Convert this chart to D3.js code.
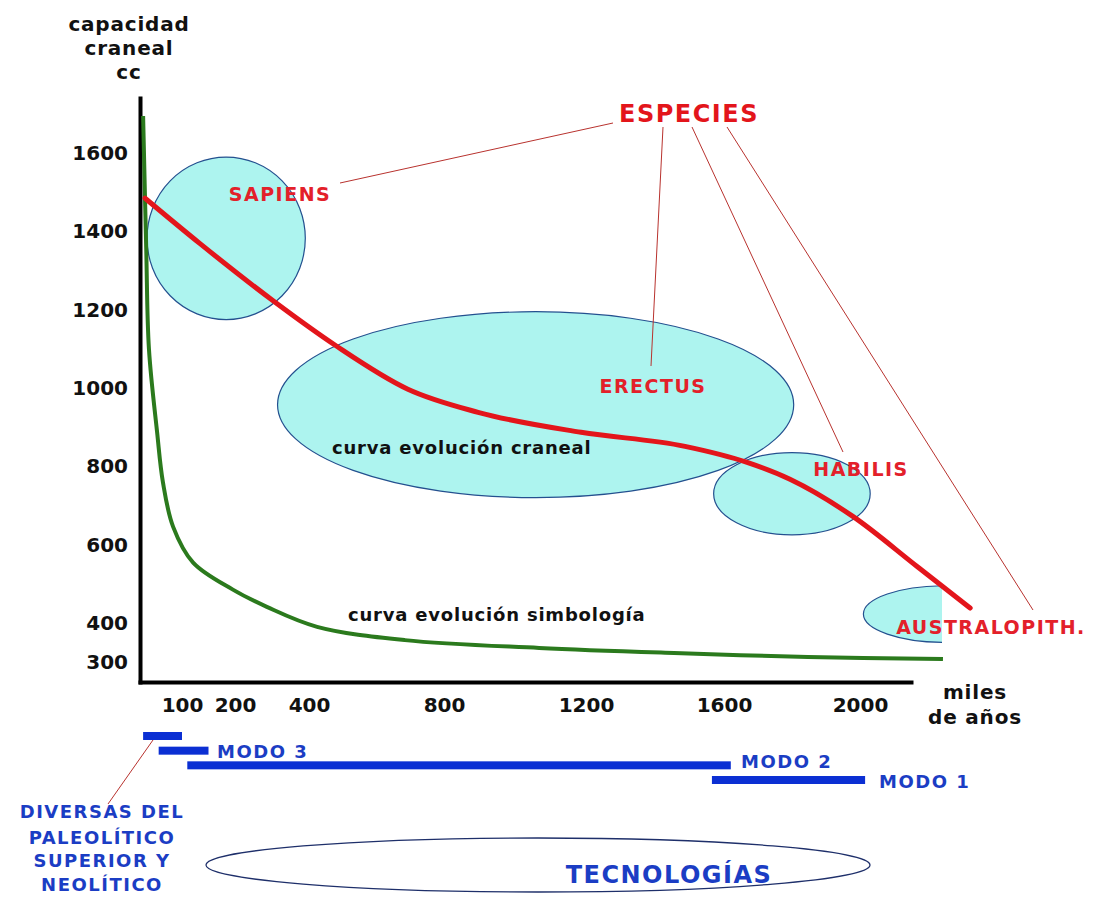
<!DOCTYPE html>
<html>
<head>
<meta charset="utf-8">
<script src="https://cdn.jsdelivr.net/npm/d3@7"></script>
<style>
  body { margin: 0; background: #fff; }
  text { font-family: "DejaVu Sans", Verdana, sans-serif; }
</style>
</head>
<body>
<svg id="chart" width="1094" height="900"></svg>
<script>
// ---- data -------------------------------------------------------------
// x: miles de años (thousands of years ago), y: capacidad craneal (cc)
const xTicks = [100, 200, 400, 800, 1200, 1600, 2000];
const yTicks = [300, 400, 600, 800, 1000, 1200, 1400, 1600];

// curva evolución craneal
const cranialAge = [5, 134, 303, 480, 693, 896, 1186, 1487, 1668, 1794, 1979, 2168, 2324];
const cranialCC  = [1485, 1369, 1223, 1108, 997, 938, 887, 851, 810, 767, 672, 544, 438];

// curva evolución simbología
const symbolAge   = [0, 8, 15, 36, 51, 77, 121, 196, 286, 424, 684, 1068, 1455, 1847, 2244];
const symbolLevel = [1695, 1356, 1100, 887, 759, 646, 554, 485, 441, 390, 356, 336, 323, 313, 308];

// especies: time span and cranial capacity span
const species    = ["SAPIENS", "ERECTUS", "HABILIS", "AUSTRALOPITH."];
const speciesAge = [[10, 390], [315, 1805], [1570, 2030], [2010, 2490]];
const speciesCC  = [[1175, 1590], [720, 1195], [625, 835], [350, 495]];

// tecnologías
const techNames = ["DIVERSAS", "MODO 3", "MODO 2", "MODO 1"];
const techAge   = [[0, 100], [40, 150], [110, 1620], [1565, 2015]];

// ---- scales -----------------------------------------------------------
const svg = d3.select("#chart");

const x = d3.scaleLinear()
  .domain([-8, 100, 200, 400, 800, 1200, 1600, 2000, 2150])
  .range([140, 182, 235, 309, 444, 586, 724, 860, 911]);

const y = d3.scaleLinear()
  .domain([249, 1741])
  .range([682, 98]);

const techRow = d3.scalePoint().domain(techNames).range([736, 780]);

// ---- species ellipses ---------------------------------------------------
svg.append("defs").append("clipPath").attr("id", "plotClip")
  .append("rect").attr("x", 0).attr("y", 0)
  .attr("width", x(2241)).attr("height", y.range()[0]);

const ellipses = species.map((name, i) => {
  const [a0, a1] = speciesAge[i];
  const [c0, c1] = speciesCC[i];
  return {
    name,
    cx: (x(a0) + x(a1)) / 2, rx: Math.abs(x(a1) - x(a0)) / 2,
    cy: (y(c0) + y(c1)) / 2, ry: Math.abs(y(c1) - y(c0)) / 2
  };
});

svg.append("g").attr("clip-path", "url(#plotClip)")
  .selectAll("ellipse").data(ellipses).join("ellipse")
  .attr("cx", d => d.cx).attr("cy", d => d.cy)
  .attr("rx", d => d.rx).attr("ry", d => d.ry)
  .attr("fill", "#adf4ef")
  .attr("stroke", "#24508f")
  .attr("stroke-width", 1.2);

// ---- axes -------------------------------------------------------------
const fmt = d3.format("d");

const yAxis = svg.append("g")
  .attr("transform", `translate(${x(-8)},0)`)
  .call(d3.axisLeft(y).tickValues(yTicks).tickFormat(fmt)
    .tickSize(0).tickSizeOuter(0).tickPadding(12));

const xAxis = svg.append("g")
  .attr("transform", `translate(0,${y(249)})`)
  .call(d3.axisBottom(x).tickValues(xTicks).tickFormat(fmt)
    .tickSize(0).tickSizeOuter(0).tickPadding(16));

[yAxis, xAxis].forEach(g => {
  g.select(".domain").attr("stroke", "#000").attr("stroke-width", 4).attr("stroke-linecap", "square");
  g.selectAll(".tick text")
    .attr("fill", "#111")
    .style("font-size", "20px")
    .style("font-weight", "bold")
    .style("font-family", '"DejaVu Sans", sans-serif');
});

// axis titles
const yTitle = svg.append("text")
  .attr("text-anchor", "middle")
  .style("font-size", "20px").style("font-weight", "bold")
  .attr("letter-spacing", 0.8).attr("fill", "#111");
[["capacidad", 31], ["craneal", 55], ["cc", 79]].forEach(([t, yy]) =>
  yTitle.append("tspan").attr("x", 129).attr("y", yy).text(t));

const xTitle = svg.append("text")
  .attr("text-anchor", "middle")
  .style("font-size", "20px").style("font-weight", "bold")
  .attr("letter-spacing", 0.8).attr("fill", "#111");
[["miles", 699], ["de años", 724]].forEach(([t, yy]) =>
  xTitle.append("tspan").attr("x", 975).attr("y", yy).text(t));

// ---- curves -----------------------------------------------------------
const symbolLine = d3.line()
  .x(d => x(d[0])).y(d => y(d[1]))
  .curve(d3.curveCatmullRom.alpha(0.5));

svg.append("path")
  .datum(d3.zip(symbolAge, symbolLevel))
  .attr("d", symbolLine)
  .attr("fill", "none")
  .attr("stroke", "#2b7a1d")
  .attr("stroke-width", 4);

const cranialLine = d3.line()
  .x(d => x(d[0])).y(d => y(d[1]))
  .curve(d3.curveMonotoneX);

svg.append("path")
  .datum(d3.zip(cranialAge, cranialCC))
  .attr("d", cranialLine)
  .attr("fill", "none")
  .attr("stroke", "#e3151b")
  .attr("stroke-width", 5)
  .attr("stroke-linecap", "round");

// curve captions
const captionStyle = sel => sel
  .style("font-size", "18px").style("font-weight", "bold")
  .attr("letter-spacing", 0.8).attr("fill", "#111");
svg.append("text").attr("x", 332).attr("y", 454).call(captionStyle)
  .text("curva evolución craneal");
svg.append("text").attr("x", 348).attr("y", 621).call(captionStyle)
  .text("curva evolución simbología");

// ---- species callouts ---------------------------------------------------
const leaderColor = "#b8322e";
const leaders = [
  [613, 123, 340, 183],
  [663, 127, 651, 366],
  [692, 127, 843, 452],
  [727, 127, 1033, 610]
];
svg.append("g").selectAll("line").data(leaders).join("line")
  .attr("x1", d => d[0]).attr("y1", d => d[1])
  .attr("x2", d => d[2]).attr("y2", d => d[3])
  .attr("stroke", leaderColor).attr("stroke-width", 1);

svg.append("text").attr("x", 689).attr("y", 122).attr("text-anchor", "middle")
  .style("font-size", "24px").style("font-weight", "bold")
  .attr("letter-spacing", 1.5).attr("fill", "#e3151b")
  .text("ESPECIES");

const speciesLabelPos = [[280, 201], [653, 393], [861, 476], [991, 634]];
svg.append("g").selectAll("text").data(species).join("text")
  .attr("x", (d, i) => speciesLabelPos[i][0])
  .attr("y", (d, i) => speciesLabelPos[i][1])
  .attr("text-anchor", "middle")
  .style("font-size", "19px").style("font-weight", "bold")
  .attr("letter-spacing", 1.5)
  .attr("fill", "#e3202a")
  .text(d => d);

// ---- technology bars ----------------------------------------------------
svg.append("g").selectAll("rect").data(techNames).join("rect")
  .attr("x", (d, i) => x(techAge[i][0]))
  .attr("width", (d, i) => x(techAge[i][1]) - x(techAge[i][0]))
  .attr("y", d => techRow(d) - 4)
  .attr("height", 8)
  .attr("fill", "#0b2fd3");

const techLabelStyle = sel => sel
  .style("font-size", "18px").style("font-weight", "bold")
  .attr("fill", "#1b3dc4").attr("letter-spacing", 1.5);

svg.append("text").attr("x", 217).attr("y", 758).call(techLabelStyle).text("MODO 3");
svg.append("text").attr("x", 741).attr("y", 768).call(techLabelStyle).text("MODO 2");
svg.append("text").attr("x", 879).attr("y", 788).call(techLabelStyle).text("MODO 1");

// leader to the upper palaeolithic / neolithic bar
svg.append("line")
  .attr("x1", 153).attr("y1", 740).attr("x2", 108).attr("y2", 804)
  .attr("stroke", leaderColor).attr("stroke-width", 1);

const div = svg.append("text").attr("text-anchor", "middle").call(techLabelStyle);
[["DIVERSAS DEL", 818], ["PALEOLÍTICO", 844], ["SUPERIOR Y", 867], ["NEOLÍTICO", 891]]
  .forEach(([t, yy]) => div.append("tspan").attr("x", 102).attr("y", yy).text(t));

// technologies ellipse
svg.append("ellipse")
  .attr("cx", 538).attr("cy", 865).attr("rx", 332).attr("ry", 27)
  .attr("fill", "#fff").attr("stroke", "#1e2f6a").attr("stroke-width", 1.3);

svg.append("text").attr("x", 669).attr("y", 883).attr("text-anchor", "middle")
  .style("font-size", "24px").style("font-weight", "bold")
  .attr("fill", "#1b3dc4").attr("letter-spacing", 1.5)
  .text("TECNOLOGÍAS");
</script>
</body>
</html>
